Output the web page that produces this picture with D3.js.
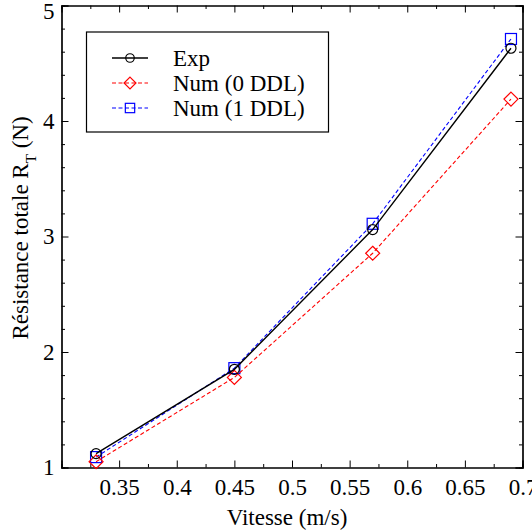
<!DOCTYPE html>
<html>
<head>
<meta charset="utf-8">
<script src="https://cdn.jsdelivr.net/npm/d3@7"></script>
<style>
  body { margin: 0; background: #fff; }
  svg { display: block; }
  text { font-family: "Liberation Serif", "Times New Roman", serif; fill: #000; }
</style>
</head>
<body>
<svg id="chart" width="532" height="530"></svg>
<script>
// Speeds (m/s) and total resistance (N) for each series
const speeds = [0.33, 0.45, 0.57, 0.69];
const expValues = [1.12, 1.85, 3.06, 4.63];
const num0Values = [1.05, 1.78, 2.855, 4.19];
const num1Values = [1.09, 1.86, 3.11, 4.71];

const seriesNames = ["Exp", "Num (0 DDL)", "Num (1 DDL)"];
const xMajorTicks = [0.35, 0.4, 0.45, 0.5, 0.55, 0.6, 0.65, 0.7];
const xTickLabels = ["0.35", "0.4", "0.45", "0.5", "0.55", "0.6", "0.65", "0.7"];
const yMajorTicks = [1, 2, 3, 4, 5];
const yTickLabels = ["1", "2", "3", "4", "5"];

const svg = d3.select("#chart");
const plot = { left: 61.5, right: 522.5, top: 5.5, bottom: 467.5 };

const x = d3.scaleLinear().domain([0.3, 0.7]).range([plot.left, plot.right]);
const y = d3.scaleLinear().domain([1, 5]).range([plot.bottom, plot.top]);

const xMinor = d3.range(0, 17).map(i => 0.3 + i * 0.025)
  .filter(v => Math.abs((v / 0.05) - Math.round(v / 0.05)) > 1e-6);
const yMinor = d3.range(0, 21).map(i => 1 + i * 0.2)
  .filter(v => Math.abs(v - Math.round(v)) > 1e-6);

const MAJ = 7, MIN = 3.5;
const FS = 23;
const FONT = "'Liberation Serif', 'Times New Roman', serif";

function styleAxis(g) {
  g.select(".domain").attr("stroke", "#000").attr("stroke-width", 1.2);
  g.selectAll(".tick line").attr("stroke", "#000").attr("stroke-width", 1);
  g.selectAll("text").style("font-size", FS + "px").style("font-family", FONT).attr("fill", "#000");
}

// Bottom axis: labelled major ticks plus minor ticks, all pointing inward
svg.append("g").attr("transform", `translate(0,${plot.bottom})`)
  .call(d3.axisBottom(x).tickValues(xMinor).tickSize(-MIN).tickFormat(""))
  .call(styleAxis);
svg.append("g").attr("transform", `translate(0,${plot.bottom})`)
  .call(d3.axisBottom(x).tickValues(xMajorTicks).tickSize(-MAJ).tickPadding(11)
    .tickFormat((d, i) => xTickLabels[i]))
  .call(styleAxis);

// Top axis
svg.append("g").attr("transform", `translate(0,${plot.top})`)
  .call(d3.axisTop(x).tickValues(xMinor).tickSize(-MIN).tickFormat(""))
  .call(styleAxis);
svg.append("g").attr("transform", `translate(0,${plot.top})`)
  .call(d3.axisTop(x).tickValues(xMajorTicks).tickSize(-MAJ).tickFormat(""))
  .call(styleAxis);

// Left axis
svg.append("g").attr("transform", `translate(${plot.left},0)`)
  .call(d3.axisLeft(y).tickValues(yMinor).tickSize(-MIN).tickFormat(""))
  .call(styleAxis);
const yAxisG = svg.append("g").attr("transform", `translate(${plot.left},0)`)
  .call(d3.axisLeft(y).tickValues(yMajorTicks).tickSize(-MAJ).tickPadding(7)
    .tickFormat((d, i) => yTickLabels[i]))
  .call(styleAxis);
// keep the top label inside the figure
yAxisG.selectAll(".tick").filter(d => d === 5).select("text").attr("y", 6);

// Right axis
svg.append("g").attr("transform", `translate(${plot.right},0)`)
  .call(d3.axisRight(y).tickValues(yMinor).tickSize(-MIN).tickFormat(""))
  .call(styleAxis);
svg.append("g").attr("transform", `translate(${plot.right},0)`)
  .call(d3.axisRight(y).tickValues(yMajorTicks).tickSize(-MAJ).tickFormat(""))
  .call(styleAxis);

// Axis titles
svg.append("text")
  .attr("x", 287).attr("y", 525)
  .attr("text-anchor", "middle")
  .style("font-size", FS + "px")
  .text("Vitesse (m/s)");

const yTitle = svg.append("text")
  .attr("transform", `translate(28,228) rotate(-90)`)
  .attr("text-anchor", "middle")
  .style("font-size", FS + "px");
yTitle.append("tspan").text("Résistance totale R");
yTitle.append("tspan").attr("baseline-shift", "sub").style("font-size", "15px").text("T");
yTitle.append("tspan").text(" (N)");

// Series definitions
const series = [
  { name: seriesNames[0], values: expValues, color: "#000", dash: null, marker: "circle" },
  { name: seriesNames[1], values: num0Values, color: "#ff0000", dash: "4,2.5", marker: "diamond" },
  { name: seriesNames[2], values: num1Values, color: "#0000ff", dash: "4,2.5", marker: "square" }
];

const line = d3.line().x(d => x(d[0])).y(d => y(d[1]));

function drawMarker(g, type, cx, cy, color, scale) {
  const s = scale || 1;
  if (type === "circle") {
    g.append("circle").attr("cx", cx).attr("cy", cy).attr("r", 5 * s)
      .attr("fill", "none").attr("stroke", color).attr("stroke-width", 1.2);
  } else if (type === "diamond") {
    const r = 7 * s;
    g.append("path")
      .attr("d", `M${cx},${cy - r}L${cx + r},${cy}L${cx},${cy + r}L${cx - r},${cy}Z`)
      .attr("fill", "none").attr("stroke", color).attr("stroke-width", 1.2);
  } else {
    const h = 5.5 * s;
    g.append("rect").attr("x", cx - h).attr("y", cy - h).attr("width", 2 * h).attr("height", 2 * h)
      .attr("fill", "none").attr("stroke", color).attr("stroke-width", 1.2);
  }
}

const dataLayer = svg.append("g");
// Numerical series first, experiment on top
[series[2], series[1], series[0]].forEach(s => {
  const pts = speeds.map((v, i) => [v, s.values[i]]);
  dataLayer.append("path").datum(pts)
    .attr("d", line)
    .attr("fill", "none")
    .attr("stroke", s.color)
    .attr("stroke-width", s.dash ? 1.1 : 1.4)
    .attr("stroke-dasharray", s.dash);
  pts.forEach(p => drawMarker(dataLayer, s.marker, x(p[0]), y(p[1]), s.color));
});

// Legend
const leg = { x: 86.5, y: 32, w: 242, h: 100 };
const lg = svg.append("g");
lg.append("rect").attr("x", leg.x).attr("y", leg.y).attr("width", leg.w).attr("height", leg.h)
  .attr("fill", "#fff").attr("stroke", "#000").attr("stroke-width", 1.2);
series.forEach((s, i) => {
  const yy = 58 + i * 25;
  lg.append("line").attr("x1", 112).attr("x2", 148).attr("y1", yy).attr("y2", yy)
    .attr("stroke", s.color).attr("stroke-width", s.dash ? 1.1 : 1.4)
    .attr("stroke-dasharray", s.dash);
  drawMarker(lg, s.marker, 130, yy, s.color, 0.85);
  lg.append("text").attr("x", 173).attr("y", yy).attr("dy", "0.35em")
    .style("font-size", FS + "px").text(s.name);
});
</script>
</body>
</html>
